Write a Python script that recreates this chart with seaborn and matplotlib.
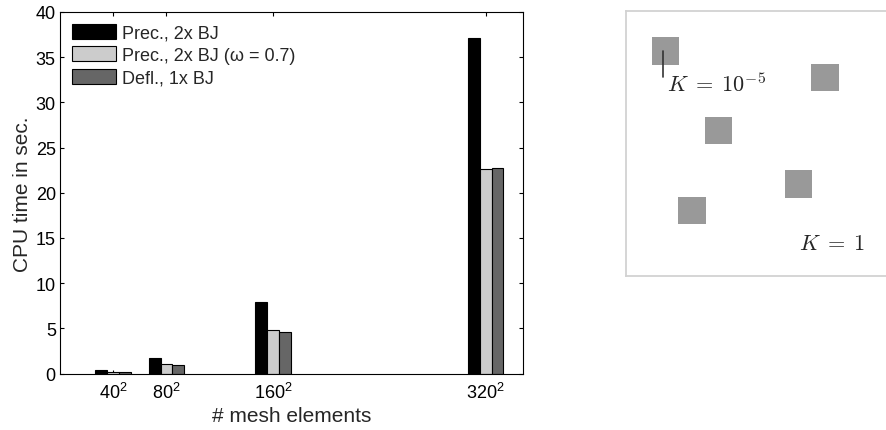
import numpy as np
import pandas as pd
import matplotlib
matplotlib.use("Agg")
import matplotlib.pyplot as plt
import seaborn as sns

# Mesh sizes (elements per side) and CPU timings per method
mesh_n = [40, 80, 160, 320]
tick_labels = ["40$^{\\mathrm{2}}$", "80$^{\\mathrm{2}}$", "160$^{\\mathrm{2}}$", "320$^{\\mathrm{2}}$"]
methods = ["Prec., 2x BJ", "Prec., 2x BJ (\u03c9 = 0.7)", "Defl., 1x BJ"]
prec_2bj = [0.35, 1.7, 7.95, 37.1]
prec_2bj_omega = [0.2, 1.05, 4.85, 22.65]
defl_1bj = [0.2, 0.97, 4.62, 22.75]
colors = ["#000000", "#cccccc", "#666666"]

# Inset sketch: square inclusions (centres) and labels
sq_x = [39.5, 199, 92.5, 172.5, 66]
sq_y = [40, 66.5, 119.5, 173, 199.5]

sns.set_theme(style="white")
plt.rcParams["font.family"] = ["Liberation Sans", "DejaVu Sans"]
plt.rcParams["mathtext.fontset"] = "custom"
plt.rcParams["mathtext.rm"] = "Liberation Sans"

df = pd.DataFrame({
    "n": mesh_n * 3,
    "time": prec_2bj + prec_2bj_omega + defl_1bj,
    "method": [m for m in methods for _ in mesh_n],
})

fig = plt.figure(figsize=(8.86, 4.31), dpi=100)
W, H = 886, 431
ax = fig.add_axes([60 / W, 1 - 374.5 / H, (523 - 60) / W, (374.5 - 13) / H])

sns.barplot(data=df, x="n", y="time", hue="method", hue_order=methods,
            palette=colors, native_scale=True, width=2 / 3, dodge=True,
            edgecolor="black", linewidth=0.8, saturation=1, errorbar=None,
            ax=ax, zorder=2)

ax.set_xlim(0, 348)
ax.set_ylim(0, 40)
ax.set_xticks(mesh_n)
ax.set_xticklabels(tick_labels)
ax.set_yticks(np.arange(0, 41, 5))
ax.tick_params(direction="in", length=3, width=0.8, top=True, right=True,
               bottom=True, left=True, labelsize=13, pad=3, colors="black")
ax.tick_params(axis="x", pad=6)
for s in ax.spines.values():
    s.set_color("black")
    s.set_linewidth(0.8)
ax.set_xlabel("# mesh elements", fontsize=15, labelpad=3)
ax.set_ylabel("CPU time in sec.", fontsize=15, labelpad=3)

handles, labels = ax.get_legend_handles_labels()
ax.legend(handles, labels, loc="upper left", frameon=False, fontsize=13,
          handlelength=2.45, handleheight=0.9, labelspacing=0.26,
          handletextpad=0.35, borderaxespad=0.35, borderpad=0.3)

# Inset: domain sketch with permeability labels
ax2 = fig.add_axes([626 / W, 1 - 277 / H, (886 - 626) / W, (277 - 12) / H])
ax2.set_xlim(0, 260)
ax2.set_ylim(265, 0)
ax2.set_xticks([])
ax2.set_yticks([])
for name, s in ax2.spines.items():
    s.set_color("#d2d2d2")
    s.set_linewidth(1.3)
ax2.spines["right"].set_visible(False)
sns.scatterplot(x=sq_x, y=sq_y, marker="s", s=19.6 ** 2, color="#999999",
                edgecolor="none", ax=ax2, legend=False)
ax2.plot([37, 37], [40, 66], color="#333333", lw=1.2)
ax2.text(41, 80, r"$K\;=\;10^{-5}$", fontsize=16, math_fontfamily="cm",
         ha="left", va="baseline")
ax2.text(173, 233, r"$K\;=\;1$", fontsize=16, math_fontfamily="cm",
         ha="left", va="center")

fig.savefig("out.png", dpi=100)
